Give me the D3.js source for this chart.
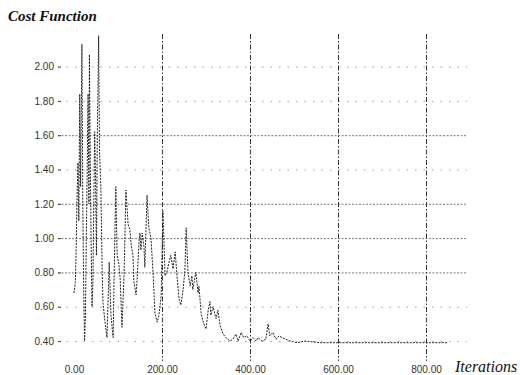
<!DOCTYPE html>
<html>
<head>
<meta charset="utf-8">
<script src="https://cdn.jsdelivr.net/npm/d3@7"></script>
<style>
  html, body { margin: 0; padding: 0; background: #fff; }
  svg { display: block; }
</style>
</head>
<body>
<svg id="chart" width="520" height="375"></svg>
<script>
// ---- data ----
const iterations = [0,3,5,7,9,11,13,15,18,20,22,24,26,28,30,32,34,35,37,39,41,43,45,47,49,51,53,56,58,
  61,64,66,70,75,77,80,84,89,91,95,98,102,105,109,114,118,123,127,130,134,136,141,143,148,150,152,155,159,161,
  166,170,175,180,184,189,193,198,200,202,207,211,216,220,225,230,234,239,243,248,252,255,259,264,268,270,
  277,282,284,289,295,300,305,309,311,316,323,327,332,339,345,355,361,368,373,380,386,393,400,407,414,418,
  427,436,441,445,452,459,466,473,482,491,507,525,559,605,650,695,741,786,848];
const cost = [0.68,0.74,0.95,1.25,1.44,1.10,1.84,1.30,2.13,1.20,0.70,0.40,0.55,1.00,1.40,1.84,1.20,2.07,1.45,0.95,0.60,0.75,1.20,1.62,1.35,0.90,1.60,2.18,1.50,
  1.30,0.81,0.62,0.52,0.42,0.60,0.86,0.55,0.42,0.75,1.30,0.90,0.85,0.76,0.48,0.80,1.28,1.08,1.05,0.96,0.90,0.75,0.67,0.74,0.99,1.03,0.93,1.03,0.95,0.83,
  1.25,1.06,1.00,0.78,0.56,0.51,0.55,0.66,0.90,1.16,0.78,0.80,0.86,0.90,0.82,0.92,0.78,0.64,0.61,0.70,0.81,1.06,0.80,0.72,0.78,0.70,
  0.80,0.68,0.72,0.56,0.50,0.47,0.58,0.63,0.55,0.60,0.53,0.58,0.49,0.44,0.42,0.40,0.41,0.44,0.40,0.45,0.42,0.43,0.40,0.42,0.40,0.42,
  0.40,0.41,0.50,0.43,0.45,0.41,0.43,0.42,0.41,0.40,0.39,0.40,0.39,0.39,0.39,0.39,0.39,0.39,0.39];
const yTicks = [0.40,0.60,0.80,1.00,1.20,1.40,1.60,1.80,2.00];
const xTicks = [0,200,400,600,800];
const denseY = [0.80,1.00,1.20,1.60];
const yTitle = "Cost Function";
const xTitle = "Iterations";

const SERIF = "'Liberation Serif', 'DejaVu Serif', 'Noto Serif', 'Times New Roman', serif";
const SANS = "'Liberation Sans', Arial, sans-serif";

// ---- scales ----
const x = d3.scaleLinear().domain([0, 800]).range([74, 426]);
const y = d3.scaleLinear().domain([0.4, 2.0]).range([341, 66.6]);

const svg = d3.select("#chart");
const fmt = d3.format(".2f");

// horizontal gridlines
const yAxis = d3.axisLeft(y).tickValues(yTicks).tickFormat(fmt).tickSize(0).tickPadding(4);
const gy = svg.append("g").attr("transform", "translate(58,0)").call(yAxis);
gy.attr("font-family", SANS);
gy.select(".domain").remove();
gy.selectAll(".tick text").attr("font-size", 10).attr("fill", "#333");
gy.selectAll(".tick").append("line")
  .attr("x1", 0).attr("x2", 409)
  .attr("stroke", d => denseY.includes(d) ? "#555" : "#888")
  .attr("stroke-width", 0.8)
  .attr("stroke-dasharray", d => denseY.includes(d) ? "2,1.5" : "1.5,7");
gy.selectAll(".tick").append("line")
  .attr("x1", 0).attr("x2", 3).attr("stroke", "#444").attr("stroke-width", 1);

// vertical gridlines + x labels
const xAxis = d3.axisBottom(x).tickValues(xTicks).tickFormat(fmt).tickSize(0).tickPadding(0);
const gx = svg.append("g").attr("transform", "translate(0,364)").call(xAxis);
gx.attr("font-family", SANS);
gx.select(".domain").remove();
gx.selectAll(".tick text")
  .attr("font-size", 10).attr("fill", "#333").attr("dy", "0.8em").attr("y", 1);
gx.selectAll(".tick").filter(d => d > 0).append("line")
  .attr("y1", -330).attr("y2", -3)
  .attr("stroke", "#333").attr("stroke-width", 1)
  .attr("stroke-dasharray", "5,2,1.5,2");

// data line
const pts = iterations.map((it, i) => [it, cost[i]]);
svg.append("path")
  .datum(pts)
  .attr("fill", "none")
  .attr("stroke", "#222")
  .attr("stroke-width", 1)
  .attr("stroke-dasharray", "2,1.2")
  .attr("d", d3.line().x(d => x(d[0])).y(d => y(d[1])));

// titles
svg.append("text").attr("x", 8).attr("y", 21)
  .style("font-family", SERIF).style("font-style", "italic")
  .attr("font-weight", "bold").attr("font-size", 15)
  .attr("fill", "#111").text(yTitle);
svg.append("text").attr("x", 455).attr("y", 372)
  .style("font-family", SERIF).style("font-style", "italic")
  .attr("font-size", 16)
  .attr("fill", "#111").text(xTitle);
</script>
</body>
</html>
